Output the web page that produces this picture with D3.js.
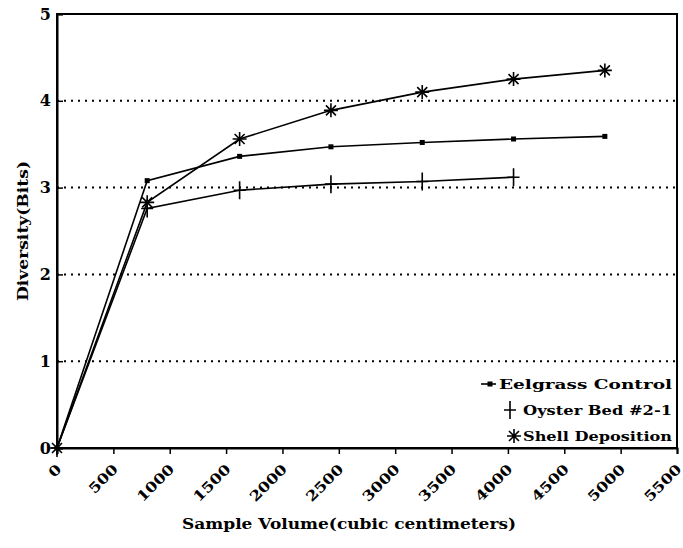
<!DOCTYPE html>
<html>
<head>
<meta charset="utf-8">
<script src="https://cdn.jsdelivr.net/npm/d3@7"></script>
<style>
  html, body { margin: 0; padding: 0; background: #fff; }
  svg text { font-family: "DejaVu Serif", serif; font-weight: bold; fill: #000; }
</style>
</head>
<body>
<div id="chart"></div>
<script>
// ---- data ----
const volumes = [0, 800, 1620, 2430, 3240, 4050, 4860];
const eelgrass = [0, 3.08, 3.36, 3.47, 3.52, 3.56, 3.59];
const oysterVolumes = [0, 800, 1620, 2430, 3240, 4050];
const oyster = [0, 2.76, 2.97, 3.04, 3.07, 3.12];
const shell = [0, 2.83, 3.56, 3.89, 4.10, 4.25, 4.35];
const xTicks = [0, 500, 1000, 1500, 2000, 2500, 3000, 3500, 4000, 4500, 5000, 5500];
const yTicks = [0, 1, 2, 3, 4, 5];
const gridValues = [1, 2, 3, 4];
const seriesNames = ["Eelgrass Control", "Oyster Bed #2-1", "Shell Deposition"];

const W = 683, H = 548;
const margin = { left: 57, right: 6, top: 14, bottom: 100 };

const svg = d3.select("#chart").append("svg")
  .attr("width", W).attr("height", H);

const x = d3.scaleLinear().domain([0, 5500]).range([margin.left, W - margin.right]);
const y = d3.scaleLinear().domain([0, 5]).range([H - margin.bottom, margin.top]);

// grid (dotted)
svg.append("g").selectAll("line").data(gridValues).join("line")
  .attr("x1", x(0)).attr("x2", x(5500))
  .attr("y1", d => y(d)).attr("y2", d => y(d))
  .attr("stroke", "#000").attr("stroke-width", 2)
  .attr("stroke-dasharray", "2,5");

// frame
svg.append("rect")
  .attr("x", x(0)).attr("y", y(5))
  .attr("width", x(5500) - x(0)).attr("height", y(0) - y(5))
  .attr("fill", "none").attr("stroke", "#000").attr("stroke-width", 2);

// x axis
const xAxis = d3.axisBottom(x).tickValues(xTicks).tickSize(6).tickFormat(d => d);
const gx = svg.append("g").attr("transform", `translate(0,${y(0)})`).call(xAxis);
gx.select(".domain").attr("stroke-width", 2);
gx.selectAll(".tick line").attr("stroke-width", 1.5);
gx.selectAll(".tick text")
  .attr("font-size", 14)
  .attr("text-anchor", "end")
  .attr("y", 0).attr("dy", 0)
  .attr("transform", "translate(5,22) rotate(-45)")
  .attr("textLength", d => String(d).length * 11.5)
  .attr("lengthAdjust", "spacingAndGlyphs");

// y axis
const yAxis = d3.axisLeft(y).tickValues(yTicks).tickSize(-6).tickPadding(6).tickFormat(d => d);
const gy = svg.append("g").attr("transform", `translate(${x(0)},0)`).call(yAxis);
gy.select(".domain").attr("stroke-width", 2);
gy.selectAll(".tick line").attr("stroke-width", 1.5);
gy.selectAll(".tick text").attr("font-size", 16);

// axis titles
svg.append("text")
  .attr("x", 349).attr("y", 529)
  .attr("text-anchor", "middle").attr("font-size", 14)
  .attr("textLength", 334).attr("lengthAdjust", "spacingAndGlyphs")
  .text("Sample Volume(cubic centimeters)");

svg.append("text")
  .attr("transform", `translate(28,${(y(0) + y(5)) / 2}) rotate(-90)`)
  .attr("text-anchor", "middle").attr("font-size", 14)
  .attr("textLength", 140).attr("lengthAdjust", "spacingAndGlyphs")
  .text("Diversity(Bits)");

// lines
const line = d3.line().x(d => x(d[0])).y(d => y(d[1]));
const eelData = volumes.map((v, i) => [v, eelgrass[i]]);
const oysData = oysterVolumes.map((v, i) => [v, oyster[i]]);
const shlData = volumes.map((v, i) => [v, shell[i]]);

[eelData, oysData, shlData].forEach(data => {
  svg.append("path").datum(data).attr("d", line)
    .attr("fill", "none").attr("stroke", "#000").attr("stroke-width", 1.6);
});

// marker helpers
function square(g, cx, cy) {
  g.append("rect").attr("x", cx - 2.5).attr("y", cy - 2.5)
    .attr("width", 5).attr("height", 5).attr("fill", "#000");
}
function plus(g, cx, cy) {
  g.append("path").attr("d", `M${cx},${cy - 9}V${cy + 9}M${cx - 6},${cy}H${cx + 6}`)
    .attr("stroke", "#000").attr("stroke-width", 1.6).attr("fill", "none");
}
function star(g, cx, cy) {
  const r = 7, d = 5;
  g.append("path").attr("d",
    `M${cx},${cy - r}V${cy + r}M${cx - r},${cy}H${cx + r}` +
    `M${cx - d},${cy - d}L${cx + d},${cy + d}M${cx - d},${cy + d}L${cx + d},${cy - d}`)
    .attr("stroke", "#000").attr("stroke-width", 1.6).attr("fill", "none");
}

const gm = svg.append("g");
eelData.forEach(d => square(gm, x(d[0]), y(d[1])));
oysData.forEach(d => plus(gm, x(d[0]), y(d[1])));
shlData.forEach(d => star(gm, x(d[0]), y(d[1])));

// legend
const lg = svg.append("g");
const legY = [384, 410, 436];
lg.append("line").attr("x1", 481).attr("x2", 496).attr("y1", legY[0]).attr("y2", legY[0])
  .attr("stroke", "#000").attr("stroke-width", 1.6);
square(lg, 490, legY[0]);
plus(lg, 510, legY[1]);
star(lg, 514, legY[2]);
const legX = [499, 523, 523];
const legLen = [173, 149, 149];
seriesNames.forEach((name, i) => {
  lg.append("text").attr("x", legX[i]).attr("y", legY[i] + 5)
    .attr("font-size", 13)
    .attr("textLength", legLen[i]).attr("lengthAdjust", "spacingAndGlyphs")
    .text(name);
});
</script>
</body>
</html>
